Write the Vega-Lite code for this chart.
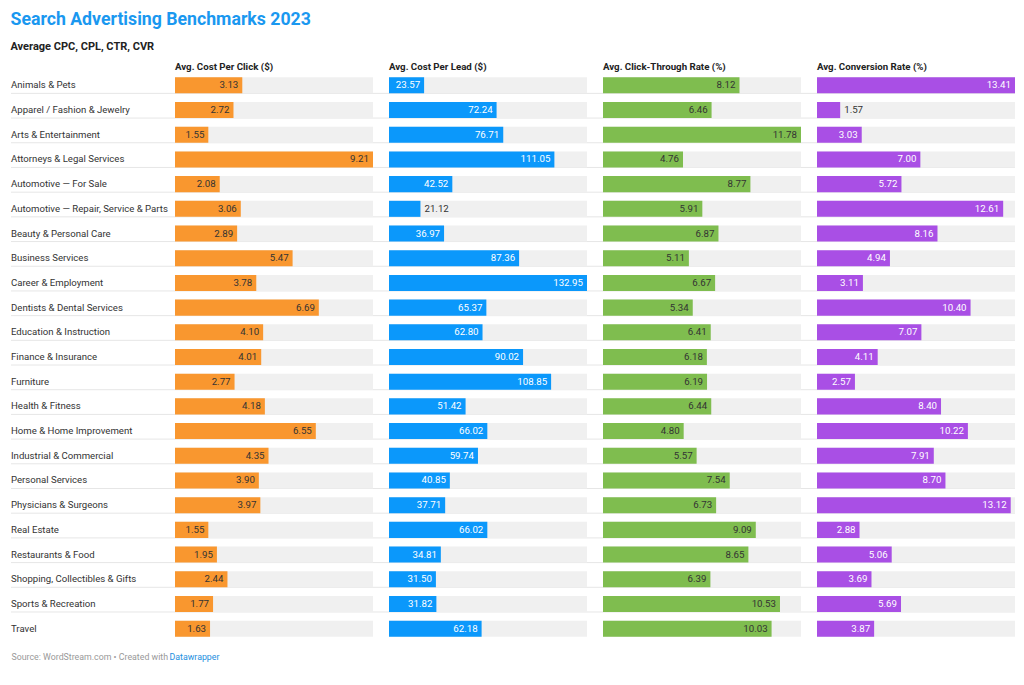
{
  "$schema": "https://vega.github.io/schema/vega-lite/v6.json",
  "padding": {"left": 10, "top": 11, "right": 10, "bottom": 10},
  "background": "white",
  "bounds": "flush",
  "spacing": 0,
  "config": {
    "font": "Roboto",
    "view": {"stroke": null},
    "title": {"anchor": "start"}
  },
  "title": {
    "text": "Search Advertising Benchmarks 2023",
    "subtitle": "Average CPC, CPL, CTR, CVR",
    "fontSize": 17.7,
    "fontWeight": "bold",
    "color": "#1a98f0",
    "subtitleFontSize": 11,
    "subtitleFontWeight": "bold",
    "subtitleColor": "#222222",
    "subtitlePadding": 12,
    "offset": 10
  },
  "data": {
    "values": [
      {"category": "Animals & Pets", "cpc": 3.13, "cpl": 23.57, "ctr": 8.12, "cvr": 13.41},
      {"category": "Apparel / Fashion & Jewelry", "cpc": 2.72, "cpl": 72.24, "ctr": 6.46, "cvr": 1.57},
      {"category": "Arts & Entertainment", "cpc": 1.55, "cpl": 76.71, "ctr": 11.78, "cvr": 3.03},
      {"category": "Attorneys & Legal Services", "cpc": 9.21, "cpl": 111.05, "ctr": 4.76, "cvr": 7.00},
      {"category": "Automotive — For Sale", "cpc": 2.08, "cpl": 42.52, "ctr": 8.77, "cvr": 5.72},
      {"category": "Automotive — Repair, Service & Parts", "cpc": 3.06, "cpl": 21.12, "ctr": 5.91, "cvr": 12.61},
      {"category": "Beauty & Personal Care", "cpc": 2.89, "cpl": 36.97, "ctr": 6.87, "cvr": 8.16},
      {"category": "Business Services", "cpc": 5.47, "cpl": 87.36, "ctr": 5.11, "cvr": 4.94},
      {"category": "Career & Employment", "cpc": 3.78, "cpl": 132.95, "ctr": 6.67, "cvr": 3.11},
      {"category": "Dentists & Dental Services", "cpc": 6.69, "cpl": 65.37, "ctr": 5.34, "cvr": 10.40},
      {"category": "Education & Instruction", "cpc": 4.10, "cpl": 62.80, "ctr": 6.41, "cvr": 7.07},
      {"category": "Finance & Insurance", "cpc": 4.01, "cpl": 90.02, "ctr": 6.18, "cvr": 4.11},
      {"category": "Furniture", "cpc": 2.77, "cpl": 108.85, "ctr": 6.19, "cvr": 2.57},
      {"category": "Health & Fitness", "cpc": 4.18, "cpl": 51.42, "ctr": 6.44, "cvr": 8.40},
      {"category": "Home & Home Improvement", "cpc": 6.55, "cpl": 66.02, "ctr": 4.80, "cvr": 10.22},
      {"category": "Industrial & Commercial", "cpc": 4.35, "cpl": 59.74, "ctr": 5.57, "cvr": 7.91},
      {"category": "Personal Services", "cpc": 3.90, "cpl": 40.85, "ctr": 7.54, "cvr": 8.70},
      {"category": "Physicians & Surgeons", "cpc": 3.97, "cpl": 37.71, "ctr": 6.73, "cvr": 13.12},
      {"category": "Real Estate", "cpc": 1.55, "cpl": 66.02, "ctr": 9.09, "cvr": 2.88},
      {"category": "Restaurants & Food", "cpc": 1.95, "cpl": 34.81, "ctr": 8.65, "cvr": 5.06},
      {"category": "Shopping, Collectibles & Gifts", "cpc": 2.44, "cpl": 31.50, "ctr": 6.39, "cvr": 3.69},
      {"category": "Sports & Recreation", "cpc": 1.77, "cpl": 31.82, "ctr": 10.53, "cvr": 5.69},
      {"category": "Travel", "cpc": 1.63, "cpl": 62.18, "ctr": 10.03, "cvr": 3.87}
    ]
  },
  "hconcat": [
    {
      "width": 164,
      "height": 568,
      "title": {"text": " ", "fontSize": 10, "fontWeight": "bold", "offset": 1, "frame": "group"},
      "encoding": {
        "y": {"field": "category", "type": "nominal", "sort": null, "axis": null,
              "scale": {"paddingInner": 0.35, "paddingOuter": 0.175}}
      },
      "layer": [
        {
          "transform": [{"filter": "datum.category !== 'Travel'"}],
          "mark": {"type": "rule", "color": "#e6e6e6", "strokeWidth": 1},
          "encoding": {"y": {"field": "category", "type": "nominal", "sort": null, "bandPosition": 1}}
        },
        {
          "mark": {"type": "text", "align": "left", "baseline": "middle", "fontSize": 9.6, "color": "#333333"},
          "encoding": {
            "x": {"datum": 0, "type": "quantitative", "scale": {"domain": [0, 1]},
                  "axis": {"domain": false, "ticks": false, "labels": false, "grid": false,
                           "title": "Source: WordStream.com • Created with",
                           "titleAnchor": "start", "titleAlign": "left", "titleFontSize": 8.8,
                           "titleFontWeight": "normal", "titleColor": "#999999", "titlePadding": 11}},
            "text": {"field": "category"}
          }
        }
      ]
    },
    {
      "width": 214,
      "height": 568,
      "title": {"text": "Avg. Cost Per Click ($)", "fontSize": 9.7, "fontWeight": "bold", "color": "#222222", "offset": 1, "frame": "group"},
      "transform": [{"joinaggregate": [{"op": "max", "field": "cpc", "as": "vmax"}]}],
      "encoding": {
        "y": {"field": "category", "type": "nominal", "sort": null, "axis": null,
              "scale": {"paddingInner": 0.35, "paddingOuter": 0.175}}
      },
      "layer": [
        {
          "transform": [{"filter": "datum.category !== 'Travel'"}],
          "mark": {"type": "rule", "color": "#e6e6e6", "strokeWidth": 1},
          "encoding": {"y": {"field": "category", "type": "nominal", "sort": null, "bandPosition": 1}}
        },
        {
          "mark": {"type": "bar", "color": "#f0f0f0"},
          "encoding": {
            "x": {"field": "vmax", "type": "quantitative",
                  "scale": {"domain": [0, 9.954], "nice": false, "zero": true},
                  "axis": {"domain": false, "ticks": false, "labels": false, "grid": false,
                           "title": "Datawrapper", "titleAnchor": "start", "titleAlign": "left",
                           "titleX": -6, "titleFontSize": 8.8, "titleFontWeight": "normal",
                           "titleColor": "#1d8fe0", "titlePadding": 11}}
          }
        },
        {
          "mark": {"type": "bar", "color": "#f9972f"},
          "encoding": {"x": {"field": "cpc", "type": "quantitative"}}
        },
        {
          "mark": {"type": "text", "align": "right", "baseline": "middle", "dx": -4, "fontSize": 9.7, "color": "#333333"},
          "encoding": {"x": {"field": "cpc", "type": "quantitative"}, "text": {"field": "cpc", "type": "quantitative", "format": ".2f"}}
        }
      ]
    },
    {
      "width": 214,
      "height": 568,
      "title": {"text": "Avg. Cost Per Lead ($)", "fontSize": 9.7, "fontWeight": "bold", "color": "#222222", "offset": 1, "frame": "group"},
      "transform": [{"joinaggregate": [{"op": "max", "field": "cpl", "as": "vmax"}]}],
      "encoding": {
        "y": {"field": "category", "type": "nominal", "sort": null, "axis": null,
              "scale": {"paddingInner": 0.35, "paddingOuter": 0.175}}
      },
      "layer": [
        {
          "transform": [{"filter": "datum.category !== 'Travel'"}],
          "mark": {"type": "rule", "color": "#e6e6e6", "strokeWidth": 1},
          "encoding": {"y": {"field": "category", "type": "nominal", "sort": null, "bandPosition": 1}}
        },
        {
          "mark": {"type": "bar", "color": "#f0f0f0"},
          "encoding": {
            "x": {"field": "vmax", "type": "quantitative",
                  "scale": {"domain": [0, 143.69], "nice": false, "zero": true}, "axis": null}
          }
        },
        {
          "mark": {"type": "bar", "color": "#0b98fb"},
          "encoding": {"x": {"field": "cpl", "type": "quantitative"}}
        },
        {
          "transform": [{"filter": "datum.cpl >= 22"}],
          "mark": {"type": "text", "align": "right", "baseline": "middle", "dx": -4, "fontSize": 9.7, "color": "#ffffff"},
          "encoding": {"x": {"field": "cpl", "type": "quantitative"}, "text": {"field": "cpl", "type": "quantitative", "format": ".2f"}}
        },
        {
          "transform": [{"filter": "datum.cpl < 22"}],
          "mark": {"type": "text", "align": "left", "baseline": "middle", "dx": 4, "fontSize": 9.7, "color": "#333333"},
          "encoding": {"x": {"field": "cpl", "type": "quantitative"}, "text": {"field": "cpl", "type": "quantitative", "format": ".2f"}}
        }
      ]
    },
    {
      "width": 214,
      "height": 568,
      "title": {"text": "Avg. Click-Through Rate (%)", "fontSize": 9.7, "fontWeight": "bold", "color": "#222222", "offset": 1, "frame": "group"},
      "transform": [{"joinaggregate": [{"op": "max", "field": "ctr", "as": "vmax"}]}],
      "encoding": {
        "y": {"field": "category", "type": "nominal", "sort": null, "axis": null,
              "scale": {"paddingInner": 0.35, "paddingOuter": 0.175}}
      },
      "layer": [
        {
          "transform": [{"filter": "datum.category !== 'Travel'"}],
          "mark": {"type": "rule", "color": "#e6e6e6", "strokeWidth": 1},
          "encoding": {"y": {"field": "category", "type": "nominal", "sort": null, "bandPosition": 1}}
        },
        {
          "mark": {"type": "bar", "color": "#f0f0f0"},
          "encoding": {
            "x": {"field": "vmax", "type": "quantitative",
                  "scale": {"domain": [0, 12.732], "nice": false, "zero": true}, "axis": null}
          }
        },
        {
          "mark": {"type": "bar", "color": "#7fbd4f"},
          "encoding": {"x": {"field": "ctr", "type": "quantitative"}}
        },
        {
          "mark": {"type": "text", "align": "right", "baseline": "middle", "dx": -4, "fontSize": 9.7, "color": "#333333"},
          "encoding": {"x": {"field": "ctr", "type": "quantitative"}, "text": {"field": "ctr", "type": "quantitative", "format": ".2f"}}
        }
      ]
    },
    {
      "width": 198,
      "height": 568,
      "title": {"text": "Avg. Conversion Rate (%)", "fontSize": 9.7, "fontWeight": "bold", "color": "#222222", "offset": 1, "frame": "group"},
      "transform": [{"joinaggregate": [{"op": "max", "field": "cvr", "as": "vmax"}]}],
      "encoding": {
        "y": {"field": "category", "type": "nominal", "sort": null, "axis": null,
              "scale": {"paddingInner": 0.35, "paddingOuter": 0.175}}
      },
      "layer": [
        {
          "transform": [{"filter": "datum.category !== 'Travel'"}],
          "mark": {"type": "rule", "color": "#e6e6e6", "strokeWidth": 1},
          "encoding": {"y": {"field": "category", "type": "nominal", "sort": null, "bandPosition": 1}}
        },
        {
          "mark": {"type": "bar", "color": "#f0f0f0"},
          "encoding": {
            "x": {"field": "vmax", "type": "quantitative",
                  "scale": {"domain": [0, 13.41], "nice": false, "zero": true}, "axis": null}
          }
        },
        {
          "mark": {"type": "bar", "color": "#a94fe5"},
          "encoding": {"x": {"field": "cvr", "type": "quantitative"}}
        },
        {
          "transform": [{"filter": "datum.cvr >= 2"}],
          "mark": {"type": "text", "align": "right", "baseline": "middle", "dx": -4, "fontSize": 9.7, "color": "#ffffff"},
          "encoding": {"x": {"field": "cvr", "type": "quantitative"}, "text": {"field": "cvr", "type": "quantitative", "format": ".2f"}}
        },
        {
          "transform": [{"filter": "datum.cvr < 2"}],
          "mark": {"type": "text", "align": "left", "baseline": "middle", "dx": 4, "fontSize": 9.7, "color": "#333333"},
          "encoding": {"x": {"field": "cvr", "type": "quantitative"}, "text": {"field": "cvr", "type": "quantitative", "format": ".2f"}}
        }
      ]
    }
  ]
}
